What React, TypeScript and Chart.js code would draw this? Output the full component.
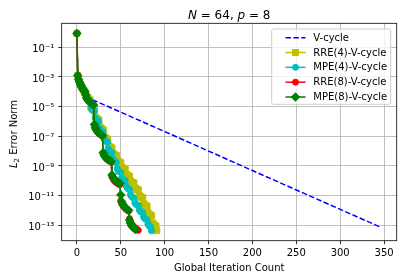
import React, { useEffect, useRef } from 'react';
import { Chart, registerables } from 'chart.js';

Chart.register(...registerables);

const W = 403;
const H = 279;
const AREA = { left: 61.7, right: 396.7, top: 23.3, bottom: 240.7 };
const FONT = 'DejaVu Sans';

// ---- axes ----
const xTicks = [0, 50, 100, 150, 200, 250, 300, 350];
const xRange = [-17.3, 364.4];
const yTickExponents = [-13, -11, -9, -7, -5, -3, -1];
const yRangeLog10 = [-14.04, 0.62];

// ---- texts ----
const xTitle = 'Global Iteration Count';
const seriesLabels = ['V-cycle', 'RRE(4)-V-cycle', 'MPE(4)-V-cycle', 'RRE(8)-V-cycle', 'MPE(8)-V-cycle'];

// ---- data (log10 of the L2 error norm) ----
const vcycleIter = [0, 1, 2, 3, 4, 5, 6, 7, 8, 9, 10, 12, 14, 17, 20, 100, 200, 346];
const vcycleLog10 = [-0.06, -2.9, -3.18, -3.36, -3.5, -3.62, -3.73, -3.83, -3.92, -4.0, -4.08, -4.22, -4.35, -4.51, -4.59, -6.68, -9.31, -13.13];

// index = global iteration count
const rre4Log10 = [
  -0.06, -2.90, -3.18, -3.36, -3.50, -3.62, -3.73, -3.83, -3.92, -4.00, -4.08,
  -4.30, -4.38, -4.44, -4.49, -4.54,
  -5.04, -5.12, -5.18, -5.21, -5.25,
  -5.71, -5.78, -5.84, -5.87, -5.90,
  -6.36, -6.43, -6.49, -6.52, -6.55,
  -7.01, -7.08, -7.14, -7.17, -7.20,
  -7.62, -7.69, -7.74, -7.77, -7.80,
  -8.15, -8.21, -8.25, -8.28, -8.30,
  -8.64, -8.69, -8.73, -8.76, -8.78,
  -9.09, -9.14, -9.18, -9.20, -9.22,
  -9.56, -9.61, -9.65, -9.68, -9.70,
  -10.02, -10.07, -10.11, -10.13, -10.15,
  -10.48, -10.53, -10.57, -10.60, -10.62,
  -10.99, -11.05, -11.10, -11.13, -11.15,
  -11.55, -11.62, -11.66, -11.69, -11.72,
  -12.16, -12.24, -12.29, -12.32, -12.35,
  -12.84, -12.92, -12.98, -13.02, -13.05,
  -13.36,
];

const mpe4Log10 = [
  -0.06, -2.90, -3.18, -3.36, -3.50, -3.62, -3.73, -3.83, -3.92, -4.00, -4.08,
  -4.35, -4.45, -4.52, -4.57, -4.61,
  -5.05, -5.17, -5.23, -5.27, -5.30,
  -5.75, -5.87, -5.93, -5.97, -6.00,
  -6.45, -6.57, -6.63, -6.67, -6.70,
  -7.15, -7.27, -7.33, -7.37, -7.40,
  -7.85, -7.97, -8.03, -8.07, -8.10,
  -8.52, -8.64, -8.70, -8.74, -8.77,
  -9.18, -9.30, -9.36, -9.40, -9.43,
  -9.78, -9.88, -9.93, -9.96, -9.98,
  -10.33, -10.45, -10.52, -10.56, -10.59,
  -10.92, -11.04, -11.10, -11.14, -11.17,
  -11.46, -11.56, -11.61, -11.64, -11.66,
  -11.95, -12.05, -12.10, -12.13, -12.15,
  -12.44, -12.53, -12.58, -12.61, -12.63,
  -12.92, -13.02, -13.08, -13.12, -13.37,
];

const rre8Log10 = [
  -0.06, -2.90, -3.18, -3.36, -3.50, -3.62, -3.73, -3.83, -3.92, -4.00,
  -4.18, -4.38, -4.49, -4.57, -4.64, -4.70, -4.75, -4.80, -4.84, -4.88,
  -6.25, -6.45, -6.57, -6.66, -6.73, -6.79, -6.84, -6.89, -6.93, -6.97,
  -8.15, -8.30, -8.40, -8.47, -8.53, -8.58, -8.62, -8.66, -8.69, -8.72,
  -9.70, -9.84, -9.94, -10.01, -10.07, -10.12, -10.16, -10.20, -10.23, -10.26,
  -11.35, -11.50, -11.62, -11.71, -11.79, -11.85, -11.91, -11.96, -12.00, -12.04,
  -12.55, -12.75, -12.88, -12.97, -13.05, -13.11, -13.17, -13.22, -13.26, -13.30,
  -13.34,
];

const mpe8Log10 = [
  -0.06, -2.90, -3.18, -3.36, -3.50, -3.62, -3.73, -3.83, -3.92, -4.00,
  -4.20, -4.40, -4.50, -4.58, -4.65, -4.71, -4.76, -4.81, -4.86, -4.90,
  -6.20, -6.42, -6.55, -6.64, -6.71, -6.77, -6.82, -6.87, -6.91, -6.95,
  -8.10, -8.25, -8.35, -8.42, -8.48, -8.53, -8.57, -8.61, -8.65, -8.68,
  -9.60, -9.75, -9.85, -9.92, -9.98, -10.03, -10.07, -10.11, -10.15, -10.18,
  -10.95, -11.40, -11.55, -11.65, -11.73, -11.80, -11.86, -11.91, -11.96, -12.00,
  -12.65, -12.85, -12.97, -13.06, -13.13, -13.19, -13.24, -13.29,
];

const SUP: Record<string, string> = {
  '-': '\u207B', '0': '\u2070', '1': '\u00B9', '2': '\u00B2', '3': '\u00B3',
  '4': '\u2074', '5': '\u2075', '6': '\u2076', '7': '\u2077', '8': '\u2078', '9': '\u2079',
};
const sup = (n: number) => String(n).split('').map((c) => SUP[c] ?? c).join('');

type Run = { t: string; italic?: boolean; size: number; dy?: number };

function drawRuns(ctx: CanvasRenderingContext2D, runs: Run[], x: number, y: number) {
  const fontOf = (r: Run) => `${r.italic ? 'italic ' : ''}${r.size}px "${FONT}"`;
  let total = 0;
  const widths = runs.map((r) => {
    ctx.font = fontOf(r);
    const w = ctx.measureText(r.t).width;
    total += w;
    return w;
  });
  let cx = x - total / 2;
  ctx.textAlign = 'left';
  ctx.textBaseline = 'alphabetic';
  runs.forEach((r, i) => {
    ctx.font = fontOf(r);
    ctx.fillText(r.t, cx, y + (r.dy ?? 0));
    cx += widths[i];
  });
}

const decorations = {
  id: 'decorations',
  afterDraw(chart: any) {
    const ctx: CanvasRenderingContext2D = chart.ctx;
    const a = chart.chartArea;
    ctx.save();
    // frame
    ctx.strokeStyle = '#000';
    ctx.lineWidth = 0.8;
    ctx.strokeRect(a.left, a.top, a.right - a.left, a.bottom - a.top);

    ctx.fillStyle = '#000';
    const cx = (a.left + a.right) / 2;
    // title
    drawRuns(ctx, [
      { t: 'N', italic: true, size: 12 },
      { t: ' = 64, ', size: 12 },
      { t: 'p', italic: true, size: 12 },
      { t: ' = 8', size: 12 },
    ], cx, 18.5);
    // x title
    drawRuns(ctx, [{ t: xTitle, size: 10 }], cx, 270.5);
    // y title
    ctx.save();
    ctx.translate(16.5, 134);
    ctx.rotate(-Math.PI / 2);
    drawRuns(ctx, [
      { t: 'L', italic: true, size: 10 },
      { t: '2', size: 7, dy: 2 },
      { t: ' Error Norm', size: 10 },
    ], 0, 0);
    ctx.restore();

    // legend
    const bx = 271.7, by = 29, bw = 119, bh = 75.3;
    ctx.beginPath();
    (ctx as any).roundRect(bx, by, bw, bh, 2);
    ctx.fillStyle = 'rgba(255,255,255,0.8)';
    ctx.fill();
    ctx.strokeStyle = '#cccccc';
    ctx.lineWidth = 1;
    ctx.stroke();

    const hx0 = 285.5, hx1 = 305.5, tx = 313.3;
    chart.data.datasets.forEach((ds: any, i: number) => {
      const y = 37.7 + i * 14.83;
      ctx.save();
      ctx.strokeStyle = ds.borderColor;
      ctx.lineWidth = ds.borderWidth;
      ctx.setLineDash(ds.borderDash || []);
      ctx.beginPath();
      ctx.moveTo(hx0, y);
      ctx.lineTo(hx1, y);
      ctx.stroke();
      ctx.setLineDash([]);
      const mx = (hx0 + hx1) / 2;
      const r = ds.pointRadius;
      if (r > 0) {
        ctx.fillStyle = ds.backgroundColor;
        ctx.lineWidth = 1;
        ctx.beginPath();
        if (ds.pointStyle === 'rect') {
          const s = r * Math.SQRT1_2;
          ctx.rect(mx - s, y - s, 2 * s, 2 * s);
        } else if (ds.pointStyle === 'rectRot') {
          ctx.moveTo(mx - r, y);
          ctx.lineTo(mx, y - r);
          ctx.lineTo(mx + r, y);
          ctx.lineTo(mx, y + r);
          ctx.closePath();
        } else {
          ctx.arc(mx, y, r, 0, Math.PI * 2);
        }
        ctx.fill();
        ctx.stroke();
      }
      ctx.restore();
      ctx.fillStyle = '#000';
      ctx.font = `10px "${FONT}"`;
      ctx.textAlign = 'left';
      ctx.textBaseline = 'middle';
      ctx.fillText(ds.label, tx, y + 0.5);
    });
    ctx.restore();
  },
};

const toPoints = (xs: number[], logs: number[]) => logs.map((v, i) => ({ x: xs[i], y: Math.pow(10, v) }));
const byIndex = (logs: number[]) => logs.map((v, i) => ({ x: i, y: Math.pow(10, v) }));

export default function App() {
  const ref = useRef<HTMLCanvasElement | null>(null);
  useEffect(() => {
    if (!ref.current) return;
    const mk = (label: string, color: string, data: any[], style: string, radius: number, order: number) => ({
      label,
      data,
      borderColor: color,
      backgroundColor: color,
      borderWidth: 1.5,
      pointStyle: style,
      pointRadius: radius,
      pointBorderWidth: 1,
      pointBorderColor: color,
      pointBackgroundColor: color,
      tension: 0,
      order,
    });
    const chart = new Chart(ref.current, {
      type: 'line',
      data: {
        datasets: [
          {
            label: seriesLabels[0],
            data: toPoints(vcycleIter, vcycleLog10),
            borderColor: '#0000ff',
            backgroundColor: '#0000ff',
            borderWidth: 1.5,
            borderDash: [5.5, 2.4],
            pointRadius: 0,
            tension: 0,
            order: 4,
          },
          mk(seriesLabels[1], '#bfbf00', byIndex(rre4Log10), 'rect', 4.24, 3),
          mk(seriesLabels[2], '#00bfbf', byIndex(mpe4Log10), 'circle', 3, 2),
          mk(seriesLabels[3], '#ff0000', byIndex(rre8Log10), 'circle', 3, 1),
          mk(seriesLabels[4], '#008000', byIndex(mpe8Log10), 'rectRot', 4.24, 0),
        ] as any,
      },
      options: {
        responsive: false,
        animation: false,
        devicePixelRatio: 1,
        events: [],
        layout: { padding: { left: 0, top: AREA.top, right: W - AREA.right, bottom: 0 } },
        plugins: { legend: { display: false }, title: { display: false }, tooltip: { enabled: false } },
        scales: {
          x: {
            type: 'linear',
            min: xRange[0],
            max: xRange[1],
            bounds: 'data',
            afterBuildTicks: (s: any) => { s.ticks = xTicks.map((v) => ({ value: v })); },
            afterFit: (s: any) => { s.height = H - AREA.bottom; },
            ticks: { font: { family: FONT, size: 10 }, color: '#000', padding: 3, autoSkip: false, maxRotation: 0 },
            grid: { color: '#b0b0b0', lineWidth: 0.8, tickColor: '#000', tickLength: 3.5, tickWidth: 0.8 },
            border: { display: false },
          },
          y: {
            type: 'logarithmic',
            min: Math.pow(10, yRangeLog10[0]),
            max: Math.pow(10, yRangeLog10[1]),
            bounds: 'data',
            afterBuildTicks: (s: any) => { s.ticks = yTickExponents.map((e) => ({ value: Math.pow(10, e) })); },
            afterFit: (s: any) => { s.width = AREA.left; },
            ticks: {
              font: { family: FONT, size: 10 },
              color: '#000',
              padding: 4,
              autoSkip: false,
              labelOffset: 2,
              callback: (v: any) => '10' + sup(Math.round(Math.log10(Number(v)))),
            },
            grid: { color: '#b0b0b0', lineWidth: 0.8, tickColor: '#000', tickLength: 3.5, tickWidth: 0.8 },
            border: { display: false },
          },
        },
      } as any,
      plugins: [decorations],
    });
    return () => chart.destroy();
  }, []);
  return (
    <div style={{ position: 'absolute', left: 0, top: 0, width: W, height: H, background: '#fff' }}>
      <canvas ref={ref} width={W} height={H} style={{ width: W, height: H, display: 'block' }} />
    </div>
  );
}
